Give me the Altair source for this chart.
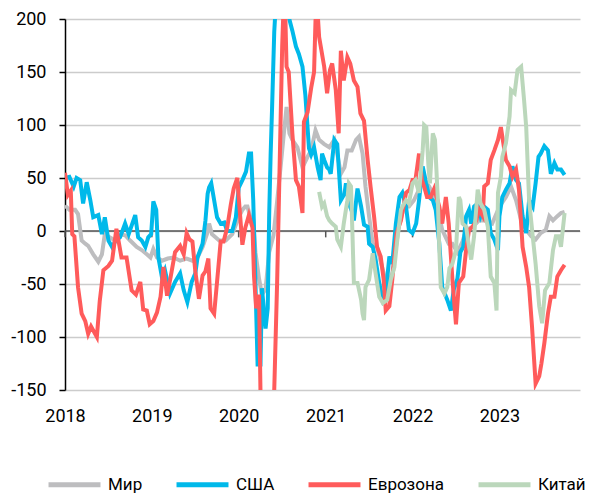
import altair as alt
import pandas as pd

# ---- data (time = months since 2018-01-01, value = index) ----
series_names = ["Мир", "США", "Еврозона", "Китай"]
series_colors = ["#bdbdbf", "#00b9ea", "#ff5b5b", "#bbd7bb"]
year_labels = ["2018-01-01", "2019-01-01", "2020-01-01", "2021-01-01", "2022-01-01", "2023-01-01"]
y_ticks = [-150, -100, -50, 0, 50, 100, 150, 200]

mir = [(0, 24), (0.6, 20), (1.4, 20), (1.8, 16), (2.3, -9), (2.8, -12), (3.2, -14), (3.9, -22),
       (4.6, -29), (5.1, -22), (5.5, -3), (6.2, -6), (6.9, -9), (7.6, -3), (8.3, -4), (9.0, -9),
       (9.9, -15), (10.6, -18), (11.3, -22), (11.8, -25), (12.2, -17), (12.7, -25), (13.4, -28),
       (14.2, -26), (15.0, -25), (15.9, -28), (16.8, -26), (17.6, -28), (18.3, -25), (19.0, -15),
       (19.6, -3), (19.9, 7), (20.3, -3), (21.3, -9), (22.2, -9), (23.1, -3), (24.0, 13), (24.5, 20),
       (24.9, 23), (25.2, 23), (25.6, 13), (26.0, 10), (26.3, -20), (26.8, -45), (27.2, -60),
       (27.7, -55), (28.2, -20), (28.8, -4), (29.3, 28), (29.8, 62), (30.3, 97), (30.6, 117),
       (31.0, 92), (31.4, 86), (32.1, 79), (32.8, 60), (33.5, 70), (34.0, 76), (34.6, 95),
       (35.1, 86), (35.8, 82), (36.5, 79), (37.2, 86), (37.6, 73), (38.1, 54), (38.6, 60),
       (39.0, 76), (39.6, 76), (40.2, 86), (40.6, 89), (41.1, 73), (41.5, 42), (42.0, 14),
       (42.5, -12), (43.1, -15), (43.8, -34), (44.5, -53), (45.2, -40), (46.1, 4), (46.8, 23),
       (47.5, 23), (48.2, 29), (48.9, 39), (49.4, 51), (50.3, 42), (51.2, 29), (52.1, 1),
       (53.0, -12), (53.5, -12), (54.2, -20), (54.9, -10), (55.4, 1), (56.3, 4), (57.2, 10),
       (58.1, 10), (59.0, 7), (60.0, 23), (60.9, 32), (61.6, 42), (62.3, 29), (63.0, 10),
       (63.7, 1), (64.4, -5), (65.0, -8), (65.7, -2), (66.4, 1), (66.9, 14), (67.4, 10),
       (68.0, 14), (68.5, 17), (69.0, 18)]

usa = [(0, 50), (0.6, 51), (1.2, 42), (1.6, 50), (2.1, 48), (2.5, 26), (3.0, 46), (3.5, 29),
       (3.9, 13), (4.6, 15), (5.1, -3), (5.5, 13), (6.0, -9), (6.5, -15), (7.0, -9), (7.6, -6),
       (8.3, 7), (8.8, -3), (9.2, 5), (9.7, 15), (10.1, -6), (10.6, -9), (11.1, -15), (11.5, -6),
       (11.9, -3), (12.2, 28), (12.6, 20), (12.9, -25), (13.4, -44), (13.8, -37), (14.5, -59),
       (15.2, -48), (15.9, -40), (16.4, -56), (16.9, -67), (17.5, -48), (18.0, -40), (18.3, -25),
       (19.0, -12), (19.4, 10), (19.7, 35), (19.9, 41), (20.2, 45), (20.6, 29), (21.0, 13),
       (21.5, 7), (22.0, 8), (22.4, 0), (23.1, 0), (23.6, 13), (24.0, 41), (24.5, 48), (25.0, 56),
       (25.4, 73), (25.7, 73), (26.0, 29), (26.3, -48), (26.6, -126), (27.0, -126), (27.2, -54),
       (27.7, -92), (28.0, -73), (28.2, 15), (28.4, 72), (28.6, 116), (28.9, 188), (29.5, 260),
       (30.4, 265), (30.9, 202), (31.4, 189), (31.9, 174), (32.3, 167), (32.8, 155), (33.2, 128),
       (33.7, 78), (34.0, 72), (34.4, 79), (34.9, 60), (35.3, 48), (35.5, 73), (35.8, 67),
       (36.2, 60), (36.5, 58), (36.7, 54), (37.2, 86), (37.6, 82), (38.1, 29), (38.6, 35),
       (38.8, 45), (39.2, 26), (39.6, 19), (39.9, 10), (40.4, 40), (40.9, 23), (41.3, 6),
       (41.8, 4), (42.0, -12), (42.5, -15), (42.9, -27), (43.4, -49), (43.9, -65), (44.3, -59),
       (44.8, -24), (45.2, -31), (45.7, 7), (46.2, 32), (46.6, 36), (47.1, 23), (47.5, 1),
       (48.0, -2), (48.5, 7), (48.9, 29), (49.4, 61), (49.9, 45), (50.3, 32), (50.8, 29),
       (51.2, 20), (51.7, -12), (52.1, -53), (52.8, -65), (53.3, -75), (53.7, -55), (54.2, -45),
       (54.6, -20), (55.0, -15), (55.4, 14), (55.8, 20), (56.1, 7), (56.5, 23), (57.0, 26),
       (57.4, 14), (57.9, 23), (58.4, 20), (58.8, -2), (59.3, -8), (59.8, -18), (60.0, 14),
       (60.4, 32), (60.9, 39), (61.4, 45), (61.8, 61), (62.3, 48), (62.7, 45), (63.2, 14),
       (63.7, -2), (64.1, 29), (64.6, 23), (65.0, 45), (65.4, 70), (65.7, 73), (66.2, 80),
       (66.7, 76), (67.1, 54), (67.6, 64), (68.0, 58), (68.5, 58), (69.0, 53)]

euro = [(0, 55), (0.4, 34), (0.8, 38), (1.0, -3), (1.3, -5), (1.8, -53), (2.3, -78), (2.8, -85),
        (3.2, -97), (3.6, -90), (4.0, -95), (4.4, -100), (4.8, -66), (5.3, -37), (6.0, -33),
        (6.5, -28), (7.1, 2), (7.8, -25), (8.5, -25), (9.2, -56), (9.8, -60), (10.4, -48),
        (10.8, -74), (11.3, -75), (11.7, -88), (12.2, -85), (12.7, -77), (13.2, -62), (13.6, -34),
        (14.1, -61), (14.6, -43), (15.2, -20), (15.9, -14), (16.4, -22), (16.8, -2), (17.2, -8),
        (17.6, -10), (18.0, -38), (18.5, -64), (19.0, -42), (19.4, -38), (19.8, -26), (20.1, -73),
        (20.6, -78), (21.0, -48), (21.5, -10), (21.9, -10), (22.4, 3), (22.9, 25), (23.3, 40),
        (23.8, 50), (24.0, 31), (24.5, -13), (24.9, 3), (25.4, 15), (25.9, 3), (26.1, -42),
        (26.4, -73), (26.8, -60), (27.0, -152), (27.4, -240), (28.6, -230), (28.9, -150),
        (29.3, -48), (29.6, 47), (30.0, 175), (30.2, 215), (30.4, 212), (30.6, 155), (30.9, 150),
        (31.4, 92), (31.9, 48), (32.3, 42), (32.8, 17), (33.0, 103), (33.5, 112), (34.0, 135),
        (34.4, 150), (34.6, 199), (34.9, 205), (35.1, 183), (35.8, 155), (36.2, 130), (36.6, 152),
        (36.9, 158), (37.4, 133), (37.8, 92), (38.1, 170), (38.5, 142), (39.0, 164), (39.4, 158),
        (39.9, 142), (40.4, 136), (40.8, 111), (41.3, 104), (41.8, 67), (42.2, 42), (42.7, 13),
        (43.1, -15), (43.6, -24), (44.0, -45), (44.3, -75), (44.8, -71), (45.2, -46), (45.8, -2),
        (46.4, 10), (47.1, 36), (47.6, 39), (48.0, 48), (48.4, 48), (48.9, 73), (49.3, 48),
        (49.6, 42), (50.0, 32), (50.5, 32), (51.0, 40), (51.7, 23), (52.1, 7), (52.6, 32),
        (53.0, 7), (53.5, -45), (54.0, -88), (54.4, -49), (55.0, -43), (55.4, -18), (55.8, 1),
        (56.3, 4), (56.8, 10), (57.2, 20), (57.7, 14), (57.9, 42), (58.4, 45), (58.8, 67),
        (59.3, 76), (59.8, 86), (60.2, 98), (60.4, 89), (60.9, 67), (61.4, 61), (61.8, 51),
        (62.3, 58), (62.7, 39), (63.2, -15), (63.7, -34), (64.1, -53), (64.5, -90), (65.0, -144),
        (65.5, -137), (65.8, -125), (66.2, -106), (66.7, -78), (67.1, -62), (67.6, -62),
        (68.0, -43), (68.5, -37), (69.0, -32)]

china = [(35.1, 37), (35.5, 23), (35.8, 26), (36.2, 14), (36.5, 10), (36.9, 7), (37.4, 4),
         (37.6, -8), (38.1, -15), (38.5, 7), (39.0, 29), (39.2, 45), (39.5, 42), (39.7, -2),
         (39.9, -49), (40.4, -49), (40.9, -65), (41.1, -78), (41.3, -84), (41.5, -53), (42.0, -46),
         (42.5, -21), (42.9, -40), (43.4, -62), (43.9, -68), (44.5, -65), (45.0, -46), (45.5, -34),
         (45.9, -8), (46.4, 20), (46.6, 23), (47.1, 29), (47.5, 26), (48.0, 45), (48.4, 48),
         (48.9, 36), (49.4, 76), (49.6, 100), (49.9, 98), (50.2, 61), (50.4, 45), (50.8, 92),
         (51.1, 86), (51.5, 29), (51.7, -18), (51.9, -53), (52.4, -59), (52.8, -53), (53.1, -35),
         (53.5, -31), (54.0, -18), (54.4, 32), (54.6, 29), (54.9, 7), (55.4, 4), (55.8, -15),
         (56.1, -27), (56.5, -5), (57.0, 39), (57.4, 26), (57.9, 20), (58.4, 4), (58.8, -43),
         (59.3, -49), (59.6, -75), (59.8, 36), (60.2, 51), (60.4, 70), (60.9, 83), (61.4, 108),
         (61.6, 133), (62.1, 130), (62.5, 152), (63.0, 155), (63.4, 124), (63.7, 98), (64.1, 29),
         (64.6, -5), (65.0, -31), (65.5, -71), (65.9, -87), (66.3, -56), (66.9, -49), (67.4, -18),
         (67.8, -5), (68.2, -5), (68.5, -15), (69.0, 17)]

START = pd.Timestamp("2018-01-01")


def frame(name, pairs):
    months = [p[0] for p in pairs]
    vals = [p[1] for p in pairs]
    dates = START + pd.to_timedelta([m * 30.4375 for m in months], unit="D")
    return pd.DataFrame({"date": dates, "value": vals, "series": name})


lines_df = pd.concat([frame(n, s) for n, s in zip(series_names, [mir, usa, euro, china])],
                     ignore_index=True)
years_df = pd.DataFrame({"date": pd.to_datetime(year_labels)})
zero_df = pd.DataFrame({"y": [0]})

FONT = "Roboto"
FS = 18
LFS = 17
x_scale = alt.Scale(domain=["2018-01-01", "2023-12-06"])
y_scale = alt.Scale(domain=[-150, 200], nice=False)

lines = alt.Chart(lines_df).mark_line(strokeWidth=4, clip=True).encode(
    x=alt.X("date:T", scale=x_scale, title=None,
            axis=alt.Axis(values=year_labels, format="%Y", grid=False, domain=False, ticks=False,
                          labelFlush=False, labelFontSize=FS, labelPadding=17,
                          labelColor="#000", labelFont=FONT)),
    y=alt.Y("value:Q", scale=y_scale, title=None,
            axis=alt.Axis(values=y_ticks, grid=True, gridColor="#cccccc", gridWidth=1.5,
                          domainColor="#000", domainWidth=1.5, tickColor="#000", tickWidth=1.5,
                          tickSize=6, labelFontSize=FS, labelPadding=13, labelColor="#000",
                          labelFont=FONT,
                          labelExpr="datum.value < 0 ? '-' + toString(-datum.value) : toString(datum.value)")),
    color=alt.Color("series:N", scale=alt.Scale(domain=series_names, range=series_colors),
                    legend=alt.Legend(title=None, orient="none", direction="horizontal",
                                      legendX=-19, legendY=437, symbolType="stroke",
                                      symbolSize=2700, symbolStrokeWidth=5, labelFontSize=LFS,
                                      labelFont=FONT, labelColor="#000", labelOffset=5,
                                      columnPadding=23, padding=0)),
    detail="series:N",
)

zero_rule = alt.Chart(zero_df).mark_rule(color="#555555", strokeWidth=1.5).encode(y="y:Q")

year_ticks = alt.Chart(years_df).mark_rule(color="#555555", strokeWidth=1.5).encode(
    x="date:T", y=alt.datum(0), y2=alt.datum(-6))

chart = alt.layer(zero_rule, year_ticks, lines).properties(
    width=515, height=371,
    padding={"left": 2, "top": 2, "right": 0, "bottom": 0},
).configure_view(stroke=None)

chart.save("out.html", embed_options={"renderer": "svg", "actions": False})
